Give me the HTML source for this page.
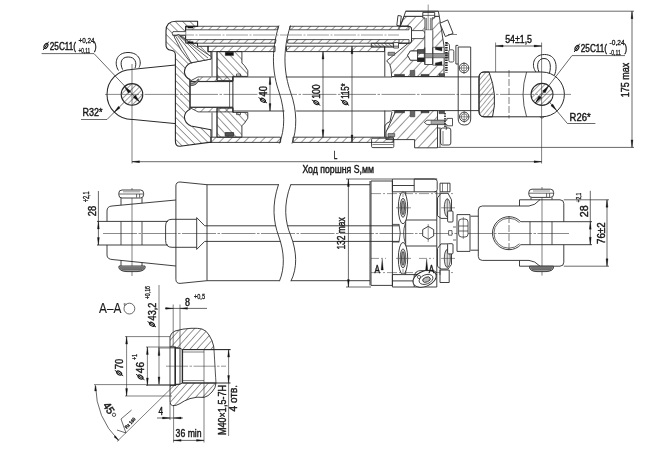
<!DOCTYPE html>
<html><head><meta charset="utf-8"><title>Hydraulic cylinder drawing</title>
<style>
html,body{margin:0;padding:0;background:#fff;}
body{width:650px;height:450px;overflow:hidden;font-family:"Liberation Sans",sans-serif;}
svg{display:block;font-family:"Liberation Sans",sans-serif;}
</style></head><body>
<svg width="650" height="450" viewBox="0 0 650 450">
<defs>
<pattern id="hA" width="5.8" height="5.8" patternUnits="userSpaceOnUse" patternTransform="rotate(-45)"><line x1="0" y1="0" x2="5.8" y2="0" stroke="#2a2a2a" stroke-width="0.95"/></pattern>
<pattern id="hB" width="5.2" height="5.2" patternUnits="userSpaceOnUse" patternTransform="rotate(45)"><line x1="0" y1="0" x2="5.2" y2="0" stroke="#2a2a2a" stroke-width="0.95"/></pattern>
<pattern id="hC" width="7.0" height="7.0" patternUnits="userSpaceOnUse" patternTransform="rotate(-47)"><line x1="0" y1="0" x2="7.0" y2="0" stroke="#2a2a2a" stroke-width="1.0"/></pattern>
<pattern id="hD" width="3.8" height="3.8" patternUnits="userSpaceOnUse" patternTransform="rotate(-45)"><line x1="0" y1="0" x2="3.8" y2="0" stroke="#2a2a2a" stroke-width="0.9"/></pattern>
<pattern id="hF" width="5.7" height="5.7" patternUnits="userSpaceOnUse" patternTransform="rotate(47)"><line x1="0" y1="0" x2="5.7" y2="0" stroke="#2a2a2a" stroke-width="0.95"/></pattern>
<pattern id="hG" width="5.2" height="5.2" patternUnits="userSpaceOnUse" patternTransform="rotate(-48)"><line x1="0" y1="0" x2="5.2" y2="0" stroke="#2a2a2a" stroke-width="0.95"/></pattern>
<pattern id="hH" width="2.6" height="2.6" patternUnits="userSpaceOnUse" patternTransform="rotate(45)"><line x1="0" y1="0" x2="2.6" y2="0" stroke="#2a2a2a" stroke-width="0.9"/></pattern>
<pattern id="hE" width="3.7" height="3.7" patternUnits="userSpaceOnUse" patternTransform="rotate(-50)"><line x1="0" y1="0" x2="3.7" y2="0" stroke="#2a2a2a" stroke-width="0.85"/></pattern>
<filter id="soft" x="0" y="0" width="650" height="450" filterUnits="userSpaceOnUse" color-interpolation-filters="sRGB"><feGaussianBlur stdDeviation="0.32"/><feColorMatrix type="saturate" values="0"/></filter>
</defs>
<rect x="0" y="0" width="650" height="450" fill="#fff"/>
<g stroke-linecap="butt" stroke-linejoin="round" filter="url(#soft)">
<line x1="105" y1="94.4" x2="571" y2="94.4" stroke="#2a2a2a" stroke-width="0.55" stroke-dasharray="34 1.5 2.5 1.5"/>
<path d="M132,69.4 A25,25 0 0 0 132,119.4" stroke="#2a2a2a" stroke-width="1.05" fill="none" />
<line x1="132" y1="69.4" x2="175.4" y2="65" stroke="#2a2a2a" stroke-width="1.0"/>
<line x1="132" y1="119.4" x2="175.4" y2="123.6" stroke="#2a2a2a" stroke-width="1.0"/>
<clipPath id="cpin1"><circle cx="132" cy="94.4" r="10.8"/></clipPath>
<circle cx="132" cy="94.4" r="10.8" fill="url(#hD)" stroke="#2a2a2a" stroke-width="1.1"/>
<path d="M118.5,70.5 C113.8,63.5 116,52.5 128,52.5 C140,52.5 142,62.5 139,67.6" stroke="#2a2a2a" stroke-width="1.0" fill="none" />
<path d="M122.6,69.6 C119.6,63 121,57 128.2,57 C135.5,57 137,63 135,68.2" stroke="#2a2a2a" stroke-width="1.0" fill="none" />
<line x1="132" y1="64" x2="132" y2="163.5" stroke="#2a2a2a" stroke-width="0.6"/>
<path d="M197.6,21.3 L176,21.3 Q166,21.3 166,31 L166,45 Q166,49.5 171,50.3 Q175.4,51 175.4,55 L175.4,141 Q175.4,146.6 180,146.3 L209,142.4 L211,142.4 L211,129.8 L191,126 Q184.6,123 184.4,116.7 Q185,111.5 190,109.2 L190,79.6 Q185,77.3 184.4,72.1 Q184.6,65.8 191,62.8 L211,59 L211,51.6 L208,51.6 L208,46.2 L197.5,46.2 L197.5,43.2 L185.6,43.2 L185.6,26.4 L197.6,26.4 Z" fill="url(#hB)" stroke="#2a2a2a" stroke-width="1.1"/>
<path d="M185.6,31.6 L173,31.6 Q171.5,33.5 173,35.4 L185.6,35.4" stroke="#2a2a2a" stroke-width="0.8" fill="#fff" />
<path d="M174,36.5 L178.5,34.5 L211,56.5 L211,59 L191,62.8 Q186,57 181,50 Z" stroke="#2a2a2a" stroke-width="0.8" fill="#fff" />
<line x1="176" y1="36.5" x2="192" y2="63.8" stroke="#2a2a2a" stroke-width="0.7"/>
<line x1="177.5" y1="35.6" x2="199" y2="62" stroke="#2a2a2a" stroke-width="0.7"/>
<line x1="178.5" y1="35" x2="205" y2="60.5" stroke="#2a2a2a" stroke-width="0.7"/>
<line x1="180" y1="36" x2="208" y2="58" stroke="#2a2a2a" stroke-width="0.7"/>
<path d="M185.6,26.3 L278.2,26.3 L277.59999999999997,29.8 L185.6,29.8 Z" fill="url(#hA)" stroke="#2a2a2a" stroke-width="0.8"/>
<path d="M289.8,26.3 L409,26.3 L408.4,29.8 L289.8,29.8 Z" fill="url(#hA)" stroke="#2a2a2a" stroke-width="0.8"/>
<path d="M185.6,39.6 L276,39.6 L275.4,43.2 L185.6,43.2 Z" fill="url(#hA)" stroke="#2a2a2a" stroke-width="0.8"/>
<path d="M287.6,39.6 L409,39.6 L408.4,43.2 L287.6,43.2 Z" fill="url(#hA)" stroke="#2a2a2a" stroke-width="0.8"/>
<line x1="172" y1="35" x2="420" y2="35" stroke="#2a2a2a" stroke-width="0.45" stroke-dasharray="22 1.5 2 1.5"/>
<path d="M409,26.3 Q411.5,26.3 411.5,29 L411.5,41 Q411.5,43.2 409,43.2" stroke="#2a2a2a" stroke-width="0.9" fill="none" />
<rect x="187.7" y="26.6" width="5.5" height="1.5" rx="0" stroke="#2a2a2a" stroke-width="0.3" fill="#111"/>
<rect x="187.7" y="41.6" width="5.5" height="1.6" rx="0" stroke="#2a2a2a" stroke-width="0.3" fill="#111"/>
<path d="M208,46.2 L275,46.2 L275,51.6 L208,51.6 Z" fill="url(#hA)" stroke="#2a2a2a" stroke-width="0.9"/>
<path d="M286.5,46.2 L384.5,46.2 L384.5,51.6 L286.5,51.6 Z" fill="url(#hA)" stroke="#2a2a2a" stroke-width="0.9"/>
<path d="M211,137.2 L280.6,137.2 L280.6,142.4 L211,142.4 Z" fill="url(#hA)" stroke="#2a2a2a" stroke-width="0.9"/>
<path d="M293,137.2 L393.3,137.2 L393.3,142.4 L293,142.4 Z" fill="url(#hA)" stroke="#2a2a2a" stroke-width="0.9"/>
<path d="M278.9,25.5 C270.5,52 272.8,74 279,92 C285.5,111 285,130 279.3,143.5" stroke="#2a2a2a" stroke-width="0.9" fill="none" />
<path d="M290.5,25.5 C282,52 284.3,74 290.5,92 C297.5,111 297,130 292,143.5" stroke="#2a2a2a" stroke-width="0.9" fill="none" />
<path d="M217,51.6 L241.9,51.6 L241.9,63 L244.6,65.8 L247.8,70.6 L247.8,76.4 L232.9,76.4 L232.9,80.6 L217,80.6 Z" fill="url(#hF)" stroke="#2a2a2a" stroke-width="0.9"/>
<path d="M217,137.2 L241.9,137.2 L241.9,125.8 L244.6,123 L247.8,118.2 L247.8,112.4 L232.9,112.4 L232.9,108.2 L217,108.2 Z" fill="url(#hF)" stroke="#2a2a2a" stroke-width="0.9"/>
<rect x="225.2" y="52.2" width="8.4" height="3.4" rx="0" stroke="#2a2a2a" stroke-width="0.3" fill="#111"/>
<rect x="225.2" y="132.6" width="8.4" height="3.6" rx="0" stroke="#2a2a2a" stroke-width="0.8" fill="#555"/>
<rect x="236.5" y="74" width="4" height="2" rx="0" stroke="#2a2a2a" stroke-width="0.7" fill="none"/>
<rect x="236.5" y="112.6" width="4" height="2" rx="0" stroke="#2a2a2a" stroke-width="0.7" fill="none"/>
<line x1="212" y1="52" x2="212" y2="59" stroke="#2a2a2a" stroke-width="0.8"/>
<line x1="212" y1="59" x2="212" y2="76.5" stroke="#2a2a2a" stroke-width="0.8"/>
<line x1="217" y1="52" x2="217" y2="80.6" stroke="#2a2a2a" stroke-width="0.8"/>
<line x1="217" y1="108.2" x2="217" y2="137" stroke="#2a2a2a" stroke-width="0.8"/>
<line x1="212" y1="112.5" x2="212" y2="137" stroke="#2a2a2a" stroke-width="0.8"/>
<path d="M191,80.6 L198,76.9 L232.9,76.9 L232.9,81.4 L191,81.4 Z" fill="url(#hA)" stroke="#2a2a2a" stroke-width="0.8"/>
<path d="M191,108.2 L198,111.9 L232.9,111.9 L232.9,107.4 L191,107.4 Z" fill="url(#hA)" stroke="#2a2a2a" stroke-width="0.8"/>
<line x1="190" y1="81.6" x2="232.9" y2="81.6" stroke="#2a2a2a" stroke-width="0.9"/>
<line x1="190" y1="107.2" x2="232.9" y2="107.2" stroke="#2a2a2a" stroke-width="0.9"/>
<line x1="232.9" y1="76.4" x2="232.9" y2="112.4" stroke="#2a2a2a" stroke-width="1.0"/>
<line x1="229.6" y1="81.6" x2="229.6" y2="107.2" stroke="#2a2a2a" stroke-width="0.7"/>
<line x1="190" y1="79.6" x2="190" y2="109.2" stroke="#2a2a2a" stroke-width="0.9"/>
<path d="M190.4,83.2 Q195.5,83.4 198.4,78.8 Q198.6,82.2 196,84.2 Q193.5,86 190.4,85.6 Z" stroke="#2a2a2a" stroke-width="0.7" fill="#999" />
<line x1="232.9" y1="77" x2="274.2" y2="77" stroke="#2a2a2a" stroke-width="0.9"/>
<line x1="232.9" y1="111" x2="284.4" y2="111" stroke="#2a2a2a" stroke-width="0.9"/>
<line x1="285.8" y1="77" x2="392" y2="77" stroke="#2a2a2a" stroke-width="0.9"/>
<line x1="296.2" y1="111" x2="392" y2="111" stroke="#2a2a2a" stroke-width="0.9"/>
<path d="M391.6,76.6 L391,68.8 Q390.6,64 386.7,60.8 L410.7,41.2 L411.5,41 L411.5,29 L409,26.3 L400.2,26.3 L404,16.3 L439.3,16.3 L441.5,30 L444,46 L444,76.6 Z" fill="url(#hC)" stroke="#2a2a2a" stroke-width="0.9"/>
<path d="M396,110.6 L437.5,110.6 L437.5,147.8 L414.6,147.8 L414.6,139.6 L386,139.6 L386,132 Z" fill="url(#hC)" stroke="#2a2a2a" stroke-width="0.9"/>
<path d="M405.7,11.2 L438.3,11.2 L439.3,16.3 L404,16.3 Z" stroke="#2a2a2a" stroke-width="0.9" fill="#fff" />
<line x1="384.8" y1="46.2" x2="384.8" y2="76.6" stroke="#2a2a2a" stroke-width="0.9"/>
<path d="M384.8,137.2 L384.8,126 Q386,123 390,121.5 L392,112" stroke="#2a2a2a" stroke-width="0.9" fill="none" />
<line x1="384.8" y1="110.6" x2="384.8" y2="136.8" stroke="#2a2a2a" stroke-width="0.9"/>
<line x1="391.6" y1="76.6" x2="444" y2="76.6" stroke="#2a2a2a" stroke-width="0.9"/>
<line x1="392" y1="110.6" x2="444" y2="110.6" stroke="#2a2a2a" stroke-width="0.9"/>
<path d="M371.3,43.2 L393.6,43.2 L393.6,47.2 L371.3,47.2 Z" fill="url(#hH)" stroke="#2a2a2a" stroke-width="0.8"/>
<rect x="393.6" y="42.6" width="4.9" height="5.4" rx="0" stroke="#2a2a2a" stroke-width="0.8" fill="#fff"/>
<line x1="384.8" y1="46.2" x2="398.4" y2="46.2" stroke="#2a2a2a" stroke-width="0.8"/>
<path d="M399,26.3 L409,26.3 Q411.5,26.3 411.5,29 L411.5,41 Q411.5,43.2 409,43.2 L399,43.2 Z" stroke="#2a2a2a" stroke-width="0" fill="#fff" />
<path d="M399,26.3 L409,26.3 L409,29.8 L399,29.8 Z" fill="url(#hA)" stroke="#2a2a2a" stroke-width="0.8"/>
<path d="M399,39.6 L409,39.6 L409,43.2 L399,43.2 Z" fill="url(#hA)" stroke="#2a2a2a" stroke-width="0.8"/>
<path d="M399,26.3 L409,26.3 Q411.5,26.3 411.5,29 L411.5,41 Q411.5,43.2 409,43.2 L399,43.2" stroke="#2a2a2a" stroke-width="1.0" fill="none" />
<path d="M411.5,30.6 L423.4,30.6 L426,34.6 L423.4,38.6 L411.5,38.6 Z" stroke="#2a2a2a" stroke-width="0.8" fill="#fff" />
<path d="M398,15.5 L401.3,16 L400.2,25.9 L396.8,25.4 Z" stroke="#2a2a2a" stroke-width="0.9" fill="#fff" />
<line x1="404" y1="16.3" x2="400.2" y2="26.3" stroke="#2a2a2a" stroke-width="0.9"/>
<path d="M422.8,12.4 L434.7,12.4 L434.7,17.9 L432,17.9 L432,30.2 L425,30.2 L425,17.9 L422.8,17.9 Z" stroke="#2a2a2a" stroke-width="0.9" fill="#fff" />
<line x1="422.8" y1="15.4" x2="434.7" y2="15.4" stroke="#2a2a2a" stroke-width="0.7"/>
<line x1="428.2" y1="4.5" x2="428.2" y2="50" stroke="#2a2a2a" stroke-width="0.5"/>
<line x1="426.6" y1="17.9" x2="426.6" y2="30" stroke="#2a2a2a" stroke-width="0.6"/>
<line x1="430.4" y1="17.9" x2="430.4" y2="30" stroke="#2a2a2a" stroke-width="0.6"/>
<path d="M424.8,30.2 L424.8,64.5 L432.8,64.5 L432.8,30.2" stroke="#2a2a2a" stroke-width="0.8" fill="#fff" />
<path d="M439.9,23.3 L447.7,19.9 L453.1,33.4 L445.3,36.5 Z" stroke="#2a2a2a" stroke-width="0.9" fill="#fff" />
<line x1="448" y1="34.5" x2="457" y2="34.5" stroke="#2a2a2a" stroke-width="0.6"/>
<path d="M407.6,55.3 L410.4,51 L417.5,51 L417.5,49.8 L424.8,49.8 M424.8,61.5 L417.5,61.5 L417.5,60.2 L410.4,60.2 L407.6,55.3" stroke="#2a2a2a" stroke-width="0.8" fill="#fff" />
<path d="M407.6,55.3 L410.4,51 L417.5,51 L417.5,60.2 L410.4,60.2 Z" stroke="#2a2a2a" stroke-width="0.8" fill="#fff" />
<path d="M432.8,47.3 L444,47.3 L444,65.2 L432.8,65.2 Z" stroke="#2a2a2a" stroke-width="0.6" fill="#fff" />
<rect x="417.5" y="49.8" width="6.8" height="3.7" rx="0" stroke="#2a2a2a" stroke-width="0.5" fill="#555"/>
<rect x="417.5" y="57.8" width="6.8" height="3.7" rx="0" stroke="#2a2a2a" stroke-width="0.5" fill="#222"/>
<rect x="424.2" y="53.5" width="25.8" height="4.3" rx="0" stroke="#2a2a2a" stroke-width="0.5" fill="#999"/>
<path d="M435.3,47.3 L442,47.3 L442,51 L435.3,49.6 Z" stroke="#2a2a2a" stroke-width="0.3" fill="#222" />
<path d="M435.3,65.2 L442,65.2 L442,61.5 L435.3,62.9 Z" stroke="#2a2a2a" stroke-width="0.3" fill="#222" />
<line x1="424.8" y1="47.5" x2="424.8" y2="64.5" stroke="#2a2a2a" stroke-width="0.8"/>
<line x1="432.8" y1="47.5" x2="432.8" y2="64.5" stroke="#2a2a2a" stroke-width="0.8"/>
<line x1="446.4" y1="42" x2="446.4" y2="72.5" stroke="#2a2a2a" stroke-width="2.6" stroke-dasharray="1.4 1.1"/>
<path d="M445.8,43.6 Q449.5,42.5 449.5,46 L449.5,49.8" stroke="#2a2a2a" stroke-width="0.8" fill="none" />
<rect x="448.8" y="49.8" width="5" height="12.2" rx="1.4" stroke="#2a2a2a" stroke-width="0.8" fill="#fff"/>
<rect x="394.5" y="74.39999999999999" width="10" height="2.2" rx="0" stroke="#2a2a2a" stroke-width="0.5" fill="#444"/>
<rect x="394.5" y="110.6" width="10" height="2.2" rx="0" stroke="#2a2a2a" stroke-width="0.5" fill="#444"/>
<rect x="410.2" y="70.39999999999999" width="4.6" height="6.2" rx="0" stroke="#2a2a2a" stroke-width="0.5" fill="#666"/>
<rect x="410.2" y="110.6" width="4.6" height="6.2" rx="0" stroke="#2a2a2a" stroke-width="0.5" fill="#666"/>
<rect x="421" y="74.39999999999999" width="8" height="2.2" rx="0" stroke="#2a2a2a" stroke-width="0.5" fill="#444"/>
<rect x="421" y="110.6" width="8" height="2.2" rx="0" stroke="#2a2a2a" stroke-width="0.5" fill="#444"/>
<rect x="439" y="73.6" width="5.5" height="3" rx="0" stroke="#2a2a2a" stroke-width="0.5" fill="#555"/>
<rect x="439" y="110.6" width="5.5" height="3" rx="0" stroke="#2a2a2a" stroke-width="0.5" fill="#555"/>
<rect x="388" y="52.3" width="6.7" height="3" rx="0" stroke="#2a2a2a" stroke-width="0.6" fill="#999"/>
<rect x="388" y="133.6" width="6.7" height="3" rx="0" stroke="#2a2a2a" stroke-width="0.6" fill="#999"/>
<path d="M424.3,122.4 L427,120.2 L446.9,120.2 L446.9,118.4 L452.5,118.4 L452.5,125.8 L446.9,125.8 L446.9,124.6 L427,124.6 Z" stroke="#2a2a2a" stroke-width="0.8" fill="#fff" />
<rect x="431" y="120.6" width="14" height="3.6" rx="0" stroke="#2a2a2a" stroke-width="0.4" fill="#aaa"/>
<line x1="445" y1="113" x2="445" y2="127" stroke="#2a2a2a" stroke-width="1.6" stroke-dasharray="1.4 1.1"/>
<rect x="440.6" y="128" width="10.2" height="17" rx="2" stroke="#2a2a2a" stroke-width="0.9" fill="#fff"/>
<line x1="443" y1="131" x2="443" y2="144" stroke="#2a2a2a" stroke-width="0.6"/>
<line x1="437.5" y1="128" x2="440.6" y2="128" stroke="#2a2a2a" stroke-width="0.8"/>
<line x1="440" y1="128" x2="440" y2="147.4" stroke="#2a2a2a" stroke-width="0.7"/>
<path d="M446,125.8 Q447.5,128 446,130" stroke="#2a2a2a" stroke-width="0.7" fill="none" />
<rect x="371.6" y="138.2" width="22.2" height="9.4" rx="1.2" stroke="#2a2a2a" stroke-width="0.9" fill="none"/>
<line x1="372.5" y1="144.5" x2="393" y2="144.5" stroke="#2a2a2a" stroke-width="0.7"/>
<rect x="372.2" y="142.9" width="21" height="1.3" rx="0" stroke="#2a2a2a" stroke-width="0" fill="#fff"/>
<line x1="405.7" y1="11.2" x2="634" y2="11.2" stroke="#2a2a2a" stroke-width="0.7"/>
<line x1="437.5" y1="147.4" x2="634" y2="147.4" stroke="#2a2a2a" stroke-width="0.7"/>
<line x1="632" y1="11.2" x2="632" y2="147.4" stroke="#2a2a2a" stroke-width="0.7"/>
<polygon points="632.00,11.20 632.95,18.70 631.05,18.70" fill="#111" stroke="#111" stroke-width="0.3"/>
<polygon points="632.00,147.40 631.05,139.90 632.95,139.90" fill="#111" stroke="#111" stroke-width="0.3"/>
<line x1="455.9" y1="45.4" x2="455.9" y2="64" stroke="#2a2a2a" stroke-width="0.9"/>
<line x1="458.2" y1="47" x2="458.2" y2="64" stroke="#2a2a2a" stroke-width="0.9"/>
<line x1="455.9" y1="45.4" x2="458.2" y2="45.4" stroke="#2a2a2a" stroke-width="0.9"/>
<line x1="455.9" y1="64" x2="458.2" y2="64" stroke="#2a2a2a" stroke-width="0.9"/>
<line x1="458.2" y1="47" x2="470.7" y2="47" stroke="#2a2a2a" stroke-width="0.9"/>
<path d="M470.7,47 L470.7,119 Q470.7,125 464.4,125 Q458.2,125 458.2,119 L458.2,64" stroke="#2a2a2a" stroke-width="0.9" fill="none" />
<circle cx="464" cy="68" r="4.8" stroke="#2a2a2a" stroke-width="0.9" fill="#fff"/>
<line x1="464" y1="62" x2="464" y2="74" stroke="#2a2a2a" stroke-width="0.5"/>
<line x1="459" y1="68" x2="469" y2="68" stroke="#2a2a2a" stroke-width="0.5"/>
<circle cx="464" cy="68" r="3" stroke="#2a2a2a" stroke-width="0.6" fill="none"/>
<circle cx="464.2" cy="116.8" r="4.7" stroke="#2a2a2a" stroke-width="0.9" fill="#fff"/>
<line x1="464.2" y1="111" x2="464.2" y2="123" stroke="#2a2a2a" stroke-width="0.5"/>
<line x1="459" y1="116.8" x2="469.5" y2="116.8" stroke="#2a2a2a" stroke-width="0.5"/>
<circle cx="464.2" cy="116.8" r="3" stroke="#2a2a2a" stroke-width="0.6" fill="none"/>
<line x1="444" y1="76.9" x2="479" y2="76.9" stroke="#2a2a2a" stroke-width="0.9"/>
<line x1="444" y1="110.6" x2="479" y2="110.6" stroke="#2a2a2a" stroke-width="0.9"/>
<path d="M484,72 L542,72 A22.4,22.4 0 0 1 542,116.8 L484,116.8 Q479,116.8 479,111 L479,78 Q479,72 484,72 Z" stroke="#2a2a2a" stroke-width="1.0" fill="none" />
<path d="M484,72 L489,72 Q498,95 492.5,116.8 L484,116.8 Q479,116.8 479,111 L479,78 Q479,72 484,72 Z" fill="url(#hE)" stroke="#2a2a2a" stroke-width="1.0"/>
<line x1="509" y1="70" x2="509" y2="118.5" stroke="#2a2a2a" stroke-width="0.6" stroke-dasharray="7 2"/>
<path d="M526.6,72 Q519.5,94.4 526.6,116.8" stroke="#2a2a2a" stroke-width="0.8" fill="none" />
<circle cx="542" cy="94.4" r="11" fill="url(#hD)" stroke="#2a2a2a" stroke-width="1.1"/>
<path d="M536,72 C531,66 533,54.5 544.5,54.5 C556,54.5 558,66 554.5,75.2" stroke="#2a2a2a" stroke-width="1.0" fill="none" />
<path d="M539,72 C536,65 538,58.5 544,58.5 C550,58.5 551.5,65 549.5,73.2" stroke="#2a2a2a" stroke-width="1.0" fill="none" />
<path d="M539.8,116.8 Q542,119.6 544.2,116.8" stroke="#2a2a2a" stroke-width="0.7" fill="none" />
<line x1="541.6" y1="42.5" x2="541.6" y2="163.5" stroke="#2a2a2a" stroke-width="0.6"/>
<line x1="495.6" y1="42.5" x2="495.6" y2="72" stroke="#2a2a2a" stroke-width="0.6"/>
<line x1="495.6" y1="46" x2="541.6" y2="46" stroke="#2a2a2a" stroke-width="0.7"/>
<polygon points="495.60,46.00 503.10,45.05 503.10,46.95" fill="#111" stroke="#111" stroke-width="0.3"/>
<polygon points="541.60,46.00 534.10,46.95 534.10,45.05" fill="#111" stroke="#111" stroke-width="0.3"/>
<text x="505.2" y="42.7" font-size="11.2" text-anchor="start" font-weight="normal" fill="#1a1a1a" stroke="#1a1a1a" stroke-width="0.45" textLength="26.8" lengthAdjust="spacingAndGlyphs">54±1,5</text>
<g transform="translate(574 51.8) rotate(0)"><ellipse cx="2.9" cy="-3.76" rx="1.6" ry="2.8" transform="rotate(34 2.9 -3.76)" fill="none" stroke="#1a1a1a" stroke-width="1.15"/><line x1="0.2" y1="0.2" x2="5.7" y2="-8.12" stroke="#1a1a1a" stroke-width="1.0"/></g>
<text x="580.8" y="51.8" font-size="11" text-anchor="start" font-weight="normal" fill="#1a1a1a" stroke="#1a1a1a" stroke-width="0.45" textLength="26.2" lengthAdjust="spacingAndGlyphs">25C11(</text>
<text x="609.6" y="44.9" font-size="6.8" text-anchor="start" font-weight="normal" fill="#1a1a1a" stroke="#1a1a1a" stroke-width="0.3" textLength="15" lengthAdjust="spacingAndGlyphs">-0,24</text>
<text x="609.6" y="54.7" font-size="6.8" text-anchor="start" font-weight="normal" fill="#1a1a1a" stroke="#1a1a1a" stroke-width="0.3" textLength="11.2" lengthAdjust="spacingAndGlyphs">-0,11</text>
<text x="624.6" y="51.8" font-size="11" text-anchor="start" font-weight="normal" fill="#1a1a1a" stroke="#1a1a1a" stroke-width="0.45" textLength="2.6" lengthAdjust="spacingAndGlyphs">)</text>
<line x1="572" y1="55.6" x2="625" y2="55.6" stroke="#2a2a2a" stroke-width="0.7"/>
<line x1="572" y1="55.6" x2="535.3" y2="103.1" stroke="#2a2a2a" stroke-width="0.7"/>
<polygon points="548.70,85.70 545.07,93.01 542.54,91.05" fill="#111" stroke="#111" stroke-width="0.3"/>
<polygon points="535.30,103.10 538.93,95.79 541.46,97.75" fill="#111" stroke="#111" stroke-width="0.3"/>
<text x="569.6" y="120.8" font-size="11.2" text-anchor="start" font-weight="normal" fill="#1a1a1a" stroke="#1a1a1a" stroke-width="0.45" textLength="21" lengthAdjust="spacingAndGlyphs">R26*</text>
<line x1="567.4" y1="123.5" x2="595.4" y2="123.5" stroke="#2a2a2a" stroke-width="0.7"/>
<line x1="567.4" y1="123.5" x2="549" y2="101.5" stroke="#2a2a2a" stroke-width="0.7"/>
<polygon points="556.60,110.60 550.86,105.63 552.70,104.08" fill="#111" stroke="#111" stroke-width="0.3"/>
<text x="629.2" y="97.2" font-size="11.6" text-anchor="start" font-weight="normal" fill="#1a1a1a" stroke="#1a1a1a" stroke-width="0.45" textLength="34.4" lengthAdjust="spacingAndGlyphs" transform="rotate(-90 629.2 97.2)">175 max</text>
<g transform="translate(43 49.8) rotate(0)"><ellipse cx="2.9" cy="-3.76" rx="1.6" ry="2.8" transform="rotate(34 2.9 -3.76)" fill="none" stroke="#1a1a1a" stroke-width="1.15"/><line x1="0.2" y1="0.2" x2="5.7" y2="-8.12" stroke="#1a1a1a" stroke-width="1.0"/></g>
<text x="49.8" y="49.8" font-size="11" text-anchor="start" font-weight="normal" fill="#1a1a1a" stroke="#1a1a1a" stroke-width="0.45" textLength="26.2" lengthAdjust="spacingAndGlyphs">25C11(</text>
<text x="78.6" y="43.4" font-size="6.8" text-anchor="start" font-weight="normal" fill="#1a1a1a" stroke="#1a1a1a" stroke-width="0.3" textLength="16" lengthAdjust="spacingAndGlyphs">+0,24</text>
<text x="78.6" y="53.2" font-size="6.8" text-anchor="start" font-weight="normal" fill="#1a1a1a" stroke="#1a1a1a" stroke-width="0.3" textLength="11.6" lengthAdjust="spacingAndGlyphs">+0,11</text>
<text x="94" y="49.8" font-size="11" text-anchor="start" font-weight="normal" fill="#1a1a1a" stroke="#1a1a1a" stroke-width="0.45" textLength="2.6" lengthAdjust="spacingAndGlyphs">)</text>
<line x1="41.6" y1="53.6" x2="94" y2="53.6" stroke="#2a2a2a" stroke-width="0.7"/>
<line x1="94" y1="53.6" x2="140" y2="102.2" stroke="#2a2a2a" stroke-width="0.7"/>
<polygon points="124.20,86.40 130.83,91.16 128.49,93.34" fill="#111" stroke="#111" stroke-width="0.3"/>
<polygon points="139.70,102.00 133.07,97.24 135.41,95.06" fill="#111" stroke="#111" stroke-width="0.3"/>
<text x="82.5" y="116.2" font-size="11.2" text-anchor="start" font-weight="normal" fill="#1a1a1a" stroke="#1a1a1a" stroke-width="0.45" textLength="20" lengthAdjust="spacingAndGlyphs">R32*</text>
<line x1="81" y1="119.5" x2="107" y2="119.5" stroke="#2a2a2a" stroke-width="0.7"/>
<line x1="107" y1="119.5" x2="124.4" y2="102" stroke="#2a2a2a" stroke-width="0.7"/>
<polygon points="114.00,112.40 118.45,106.25 120.15,107.95" fill="#111" stroke="#111" stroke-width="0.3"/>
<line x1="132" y1="161.7" x2="541.6" y2="161.7" stroke="#2a2a2a" stroke-width="0.7"/>
<polygon points="132.00,161.70 139.50,160.75 139.50,162.65" fill="#111" stroke="#111" stroke-width="0.3"/>
<polygon points="541.60,161.70 534.10,162.65 534.10,160.75" fill="#111" stroke="#111" stroke-width="0.3"/>
<text x="333.8" y="158.6" font-size="11" text-anchor="start" font-weight="normal" fill="#1a1a1a" stroke="#1a1a1a" stroke-width="0.45" textLength="3.6" lengthAdjust="spacingAndGlyphs">L</text>
<text x="302.4" y="173.2" font-size="11" text-anchor="start" font-weight="normal" fill="#1a1a1a" stroke="#1a1a1a" stroke-width="0.45" textLength="71.5" lengthAdjust="spacingAndGlyphs">Ход поршня S,мм</text>
<line x1="270" y1="77" x2="270" y2="111" stroke="#2a2a2a" stroke-width="0.7"/>
<polygon points="270.00,77.00 270.95,84.50 269.05,84.50" fill="#111" stroke="#111" stroke-width="0.3"/>
<polygon points="270.00,111.00 269.05,103.50 270.95,103.50" fill="#111" stroke="#111" stroke-width="0.3"/>
<g transform="translate(266.8 103.2) rotate(-90)"><ellipse cx="2.9" cy="-3.83" rx="1.6" ry="2.8" transform="rotate(34 2.9 -3.83)" fill="none" stroke="#1a1a1a" stroke-width="1.15"/><line x1="0.2" y1="0.2" x2="5.7" y2="-8.26" stroke="#1a1a1a" stroke-width="1.0"/></g>
<text x="266.8" y="96.4" font-size="11.2" text-anchor="start" font-weight="normal" fill="#1a1a1a" stroke="#1a1a1a" stroke-width="0.45" textLength="10.4" lengthAdjust="spacingAndGlyphs" transform="rotate(-90 266.8 96.4)">40</text>
<line x1="323" y1="51.6" x2="323" y2="137.2" stroke="#2a2a2a" stroke-width="0.7"/>
<polygon points="323.00,51.60 323.95,59.10 322.05,59.10" fill="#111" stroke="#111" stroke-width="0.3"/>
<polygon points="323.00,137.20 322.05,129.70 323.95,129.70" fill="#111" stroke="#111" stroke-width="0.3"/>
<g transform="translate(320.1 105.6) rotate(-90)"><ellipse cx="2.9" cy="-3.83" rx="1.6" ry="2.8" transform="rotate(34 2.9 -3.83)" fill="none" stroke="#1a1a1a" stroke-width="1.15"/><line x1="0.2" y1="0.2" x2="5.7" y2="-8.26" stroke="#1a1a1a" stroke-width="1.0"/></g>
<text x="320.1" y="98.8" font-size="11.2" text-anchor="start" font-weight="normal" fill="#1a1a1a" stroke="#1a1a1a" stroke-width="0.45" textLength="14.4" lengthAdjust="spacingAndGlyphs" transform="rotate(-90 320.1 98.8)">100</text>
<line x1="352" y1="46.2" x2="352" y2="142.4" stroke="#2a2a2a" stroke-width="0.7"/>
<polygon points="352.00,46.20 352.95,53.70 351.05,53.70" fill="#111" stroke="#111" stroke-width="0.3"/>
<polygon points="352.00,142.40 351.05,134.90 352.95,134.90" fill="#111" stroke="#111" stroke-width="0.3"/>
<g transform="translate(348.9 105.6) rotate(-90)"><ellipse cx="2.9" cy="-3.83" rx="1.6" ry="2.8" transform="rotate(34 2.9 -3.83)" fill="none" stroke="#1a1a1a" stroke-width="1.15"/><line x1="0.2" y1="0.2" x2="5.7" y2="-8.26" stroke="#1a1a1a" stroke-width="1.0"/></g>
<text x="348.9" y="98.8" font-size="11.2" text-anchor="start" font-weight="normal" fill="#1a1a1a" stroke="#1a1a1a" stroke-width="0.45" textLength="15.4" lengthAdjust="spacingAndGlyphs" transform="rotate(-90 348.9 98.8)">115*</text>
<line x1="103" y1="233.5" x2="569" y2="233.5" stroke="#2a2a2a" stroke-width="0.55" stroke-dasharray="34 1.5 2.5 1.5"/>
<path d="M107,221.4 L107,211 Q107,206.3 112,206 L175.9,200" stroke="#2a2a2a" stroke-width="0.9" fill="none" />
<path d="M107,245 L107,255 Q107,259.4 113,259.6 L175.9,266" stroke="#2a2a2a" stroke-width="0.9" fill="none" />
<line x1="97" y1="221.4" x2="168" y2="221.4" stroke="#2a2a2a" stroke-width="0.9"/>
<line x1="97" y1="245" x2="168" y2="245" stroke="#2a2a2a" stroke-width="0.9"/>
<line x1="121" y1="221.4" x2="121" y2="245" stroke="#2a2a2a" stroke-width="0.8"/>
<line x1="142" y1="221.4" x2="142" y2="245" stroke="#2a2a2a" stroke-width="0.8"/>
<line x1="132" y1="188" x2="132" y2="276" stroke="#2a2a2a" stroke-width="0.6"/>
<rect x="118.8" y="190" width="24.8" height="8" rx="3.2" stroke="#2a2a2a" stroke-width="0.9" fill="#fff"/>
<line x1="119" y1="194" x2="143.4" y2="194" stroke="#2a2a2a" stroke-width="0.7"/>
<line x1="121" y1="198" x2="121" y2="205.2" stroke="#2a2a2a" stroke-width="0.9"/>
<line x1="142" y1="198" x2="142" y2="203.2" stroke="#2a2a2a" stroke-width="0.9"/>
<line x1="136.6" y1="194" x2="136.6" y2="197.6" stroke="#2a2a2a" stroke-width="0.7"/>
<line x1="139.6" y1="194" x2="139.6" y2="197.6" stroke="#2a2a2a" stroke-width="0.7"/>
<line x1="123" y1="191.8" x2="140" y2="191.8" stroke="#2a2a2a" stroke-width="0.5"/>
<line x1="121" y1="260.4" x2="121" y2="266" stroke="#2a2a2a" stroke-width="0.9"/>
<line x1="142" y1="262.6" x2="142" y2="266" stroke="#2a2a2a" stroke-width="0.9"/>
<path d="M119,266 L145,266 Q146,268 143.5,270 Q141,271.6 137,271.6 L127,271.6 Q123,271.6 120.5,270 Q118,268 119,266 Z" stroke="#2a2a2a" stroke-width="0.9" fill="#bbb" />
<line x1="120" y1="268" x2="144" y2="268" stroke="#2a2a2a" stroke-width="1.0"/>
<line x1="121.5" y1="269.8" x2="142.5" y2="269.8" stroke="#2a2a2a" stroke-width="0.8"/>
<line x1="98.4" y1="191" x2="98.4" y2="245" stroke="#2a2a2a" stroke-width="0.7"/>
<polygon points="98.40,221.40 99.35,228.90 97.45,228.90" fill="#111" stroke="#111" stroke-width="0.3"/>
<polygon points="98.40,245.00 97.45,237.50 99.35,237.50" fill="#111" stroke="#111" stroke-width="0.3"/>
<text x="96" y="216.2" font-size="11.2" text-anchor="start" font-weight="normal" fill="#1a1a1a" stroke="#1a1a1a" stroke-width="0.45" textLength="10.4" lengthAdjust="spacingAndGlyphs" transform="rotate(-90 96 216.2)">28</text>
<text x="89.4" y="202.3" font-size="8.4" text-anchor="start" font-weight="normal" fill="#1a1a1a" stroke="#1a1a1a" stroke-width="0.4" textLength="10.8" lengthAdjust="spacingAndGlyphs" transform="rotate(-90 89.4 202.3)">+2,1</text>
<path d="M175.9,186 Q175.9,182 180,182 L207,184.7 L207,280.7 L180,283.4 Q175.9,283.4 175.9,279.4 Z" stroke="#2a2a2a" stroke-width="0.9" fill="none" />
<path d="M196.7,219.3 L172,219.3 Q165.6,219.3 165.6,226 L165.6,240.5 Q165.6,247.3 172,247.3 L196.7,247.3" stroke="#2a2a2a" stroke-width="0.9" fill="none" />
<line x1="196.7" y1="217.6" x2="196.7" y2="249.4" stroke="#2a2a2a" stroke-width="0.9"/>
<line x1="196.7" y1="217.6" x2="204.7" y2="225.8" stroke="#2a2a2a" stroke-width="0.9"/>
<line x1="196.7" y1="249.4" x2="204.7" y2="241.4" stroke="#2a2a2a" stroke-width="0.9"/>
<line x1="204.7" y1="225.8" x2="275.8" y2="225.8" stroke="#2a2a2a" stroke-width="0.9"/>
<line x1="204.7" y1="241.4" x2="280.6" y2="241.4" stroke="#2a2a2a" stroke-width="0.9"/>
<line x1="287.8" y1="225.8" x2="399" y2="225.8" stroke="#2a2a2a" stroke-width="0.9"/>
<line x1="293" y1="241.4" x2="399" y2="241.4" stroke="#2a2a2a" stroke-width="0.9"/>
<line x1="207" y1="184.7" x2="278.6" y2="184.7" stroke="#2a2a2a" stroke-width="0.9"/>
<line x1="207" y1="280.7" x2="279.4" y2="280.7" stroke="#2a2a2a" stroke-width="0.9"/>
<line x1="290.9" y1="184.7" x2="370" y2="184.7" stroke="#2a2a2a" stroke-width="0.9"/>
<line x1="290.9" y1="280.7" x2="370" y2="280.7" stroke="#2a2a2a" stroke-width="0.9"/>
<path d="M278.6,184.2 C271.5,205 273.5,222 278.6,236 C284.5,252 285,268 279.4,281.2" stroke="#2a2a2a" stroke-width="0.9" fill="none" />
<path d="M290.9,184.2 C283,205 285,222 290.9,236 C297,252 297.5,268 290.9,281.2" stroke="#2a2a2a" stroke-width="0.9" fill="none" />
<line x1="370" y1="181" x2="370" y2="285.4" stroke="#2a2a2a" stroke-width="0.9"/>
<line x1="346" y1="179" x2="392.4" y2="179" stroke="#2a2a2a" stroke-width="0.7"/>
<line x1="346" y1="287" x2="371" y2="287" stroke="#2a2a2a" stroke-width="0.7"/>
<line x1="348.4" y1="179" x2="348.4" y2="287" stroke="#2a2a2a" stroke-width="0.7"/>
<polygon points="348.40,179.00 349.35,186.50 347.45,186.50" fill="#111" stroke="#111" stroke-width="0.3"/>
<polygon points="348.40,287.00 347.45,279.50 349.35,279.50" fill="#111" stroke="#111" stroke-width="0.3"/>
<text x="345.2" y="249.6" font-size="11.8" text-anchor="start" font-weight="normal" fill="#1a1a1a" stroke="#1a1a1a" stroke-width="0.45" textLength="32.4" lengthAdjust="spacingAndGlyphs" transform="rotate(-90 345.2 249.6)">132 max</text>
<rect x="371" y="181" width="21.4" height="104.4" rx="0" stroke="#2a2a2a" stroke-width="0.9" fill="none"/>
<line x1="392.4" y1="179" x2="437.2" y2="179" stroke="#2a2a2a" stroke-width="0.9"/>
<path d="M392.4,179 L392.4,191.8 M392.4,185.5 L414.2,185.5 M414.2,179 L414.2,191.8 M392.4,191.8 L437.2,191.8 M414.2,179 L434.5,179 Q437.2,179 437.2,181.5 L437.2,189.5 Q437.2,191.8 434.5,191.8" stroke="#2a2a2a" stroke-width="0.9" fill="none" />
<path d="M392.4,274.6 L392.4,287 M392.4,280.9 L414.2,280.9 M414.2,274.6 L414.2,287 M392.4,274.6 L437.2,274.6 M392.4,287 L436.8,287 L436.8,274.6" stroke="#2a2a2a" stroke-width="0.9" fill="none" />
<line x1="371" y1="193.6" x2="453" y2="193.6" stroke="#2a2a2a" stroke-width="0.5" stroke-dasharray="10 2 2 2"/>
<line x1="371" y1="272.6" x2="453" y2="272.6" stroke="#2a2a2a" stroke-width="0.5" stroke-dasharray="10 2 2 2"/>
<line x1="405.7" y1="191.8" x2="405.7" y2="274.6" stroke="#2a2a2a" stroke-width="0.9"/>
<line x1="436.8" y1="191.8" x2="436.8" y2="274.6" stroke="#2a2a2a" stroke-width="0.9"/>
<line x1="405.7" y1="220" x2="436.8" y2="220" stroke="#2a2a2a" stroke-width="0.9"/>
<line x1="405.7" y1="246" x2="436.8" y2="246" stroke="#2a2a2a" stroke-width="0.9"/>
<line x1="392.4" y1="224.4" x2="399" y2="224.4" stroke="#2a2a2a" stroke-width="0.8"/>
<line x1="392.4" y1="242" x2="399" y2="242" stroke="#2a2a2a" stroke-width="0.8"/>
<path d="M399,224 Q401.5,233 399,242.4" stroke="#2a2a2a" stroke-width="0.8" fill="none" />
<path d="M405.3,223.5 Q402,233 405.3,243" stroke="#2a2a2a" stroke-width="0.8" fill="none" />
<path d="M428.2,226.4 L433.7,229.6 L433.7,236 L428.2,239.2 L422.7,236 L422.7,229.6 Z" stroke="#2a2a2a" stroke-width="0.9" fill="#fff" />
<line x1="428.2" y1="224" x2="428.2" y2="242" stroke="#2a2a2a" stroke-width="0.5"/>
<ellipse cx="403" cy="207.8" rx="4.7" ry="16" stroke="#2a2a2a" stroke-width="0.9" fill="#fff"/>
<ellipse cx="403" cy="207.8" rx="2.8" ry="9.5" stroke="#2a2a2a" stroke-width="0.8" fill="#ddd"/>
<ellipse cx="403" cy="207.8" rx="1.5" ry="7" stroke="#2a2a2a" stroke-width="0.7" fill="#999"/>
<line x1="396" y1="207.8" x2="411" y2="207.8" stroke="#2a2a2a" stroke-width="0.5"/>
<path d="M437.5,197.8 L441,193.3 L448,193.3 L451.5,199.8 L451.5,213.8 L448,218.4 L441,218.4 L437.5,215.8 Z" stroke="#2a2a2a" stroke-width="0.9" fill="#fff" />
<ellipse cx="447.3" cy="207.8" rx="3" ry="9" stroke="#2a2a2a" stroke-width="0.8" fill="#ddd"/>
<line x1="447.3" y1="198.8" x2="447.3" y2="216.8" stroke="#2a2a2a" stroke-width="0.5"/>
<line x1="441" y1="207.8" x2="455" y2="207.8" stroke="#2a2a2a" stroke-width="0.5"/>
<ellipse cx="403" cy="258.4" rx="4.7" ry="16" stroke="#2a2a2a" stroke-width="0.9" fill="#fff"/>
<ellipse cx="403" cy="258.4" rx="2.8" ry="9.5" stroke="#2a2a2a" stroke-width="0.8" fill="#ddd"/>
<ellipse cx="403" cy="258.4" rx="1.5" ry="7" stroke="#2a2a2a" stroke-width="0.7" fill="#999"/>
<line x1="396" y1="258.4" x2="411" y2="258.4" stroke="#2a2a2a" stroke-width="0.5"/>
<path d="M437.5,248.39999999999998 L441,243.89999999999998 L448,243.89999999999998 L451.5,250.39999999999998 L451.5,264.4 L448,269.0 L441,269.0 L437.5,266.4 Z" stroke="#2a2a2a" stroke-width="0.9" fill="#fff" />
<ellipse cx="447.3" cy="258.4" rx="3" ry="9" stroke="#2a2a2a" stroke-width="0.8" fill="#ddd"/>
<line x1="447.3" y1="249.39999999999998" x2="447.3" y2="267.4" stroke="#2a2a2a" stroke-width="0.5"/>
<line x1="441" y1="258.4" x2="455" y2="258.4" stroke="#2a2a2a" stroke-width="0.5"/>
<line x1="403" y1="191.8" x2="403" y2="197" stroke="#2a2a2a" stroke-width="0.5"/>
<line x1="403" y1="269" x2="403" y2="274.6" stroke="#2a2a2a" stroke-width="0.5"/>
<rect x="440" y="183.2" width="10" height="8.6" rx="0" stroke="#2a2a2a" stroke-width="0.9" fill="#fff"/>
<line x1="442.5" y1="183.2" x2="442.5" y2="191.8" stroke="#2a2a2a" stroke-width="0.6"/>
<line x1="447.5" y1="183.2" x2="447.5" y2="191.8" stroke="#2a2a2a" stroke-width="0.6"/>
<rect x="447.6" y="211" width="5.4" height="11" rx="1" stroke="#2a2a2a" stroke-width="0.9" fill="#fff"/>
<rect x="447.6" y="243.7" width="5.4" height="10.2" rx="1" stroke="#2a2a2a" stroke-width="0.9" fill="#fff"/>
<rect x="440" y="270" width="9.2" height="12.5" rx="0" stroke="#2a2a2a" stroke-width="0.9" fill="#fff"/>
<line x1="440" y1="192" x2="440" y2="275" stroke="#2a2a2a" stroke-width="0.7"/>
<rect x="448.6" y="230.6" width="3.4" height="4.6" rx="0" stroke="#2a2a2a" stroke-width="0.7" fill="#fff"/>
<ellipse cx="424.6" cy="278.8" rx="12.2" ry="7.6" stroke="#2a2a2a" stroke-width="0.9" fill="#fff" transform="rotate(-22 424.6 278.8)"/>
<ellipse cx="426" cy="279.4" rx="7.2" ry="4.6" stroke="#2a2a2a" stroke-width="0.8" fill="none" transform="rotate(-22 426 279.4)"/>
<ellipse cx="426.5" cy="279.6" rx="4" ry="2.4" stroke="#2a2a2a" stroke-width="0.8" fill="#bbb" transform="rotate(-22 426.5 279.6)"/>
<circle cx="419" cy="277" r="1.6" stroke="#2a2a2a" stroke-width="0.7" fill="none"/>
<path d="M414.5,274.8 Q416,270.5 421,270.6 L433,270.6 Q436,271 436.8,273" stroke="#2a2a2a" stroke-width="0.8" fill="none" />
<line x1="371" y1="258.4" x2="386" y2="258.4" stroke="#2a2a2a" stroke-width="0.5" stroke-dasharray="8 2 2 2"/>
<line x1="419" y1="258.4" x2="434" y2="258.4" stroke="#2a2a2a" stroke-width="0.5" stroke-dasharray="8 2 2 2"/>
<polygon points="382.20,259.00 383.30,270.00 381.10,270.00" fill="#111" stroke="#111" stroke-width="0.3"/>
<polygon points="426.70,259.00 427.80,270.00 425.60,270.00" fill="#111" stroke="#111" stroke-width="0.3"/>
<text x="374.4" y="273.4" font-size="11.2" text-anchor="start" font-weight="normal" fill="#1a1a1a" stroke="#1a1a1a" stroke-width="0.45" textLength="5.4" lengthAdjust="spacingAndGlyphs">A</text>
<text x="428.8" y="273.4" font-size="11.2" text-anchor="start" font-weight="normal" fill="#1a1a1a" stroke="#1a1a1a" stroke-width="0.45" textLength="5.4" lengthAdjust="spacingAndGlyphs">A</text>
<rect x="457" y="214.6" width="13" height="36.8" rx="0" stroke="#2a2a2a" stroke-width="0.9" fill="none"/>
<rect x="458.6" y="219" width="9.4" height="18" rx="3" stroke="#2a2a2a" stroke-width="0.8" fill="#fff"/>
<line x1="459" y1="226" x2="468" y2="226" stroke="#2a2a2a" stroke-width="0.7"/>
<line x1="459" y1="231" x2="468" y2="231" stroke="#2a2a2a" stroke-width="0.7"/>
<line x1="463.3" y1="217" x2="463.3" y2="239" stroke="#2a2a2a" stroke-width="0.5"/>
<line x1="470.7" y1="216.2" x2="478.3" y2="216.2" stroke="#2a2a2a" stroke-width="0.9"/>
<line x1="470.7" y1="250.2" x2="478.3" y2="250.2" stroke="#2a2a2a" stroke-width="0.9"/>
<line x1="453" y1="227" x2="456" y2="227" stroke="#2a2a2a" stroke-width="0.7"/>
<line x1="453" y1="240" x2="456" y2="240" stroke="#2a2a2a" stroke-width="0.7"/>
<path d="M478.3,210 Q478.3,206 482.3,206 L529,206 Q535,205.6 540,199.6" stroke="#2a2a2a" stroke-width="0.9" fill="none" />
<path d="M478.3,256.4 Q478.3,260.4 482.3,260.4 L529,260.4 Q535,260.8 540,266.2" stroke="#2a2a2a" stroke-width="0.9" fill="none" />
<line x1="478.3" y1="210" x2="478.3" y2="256.4" stroke="#2a2a2a" stroke-width="0.9"/>
<path d="M519.5,206 L519.5,199.8 L560,199.8 Q563.8,199.8 563.8,203.6 L563.8,221.7 M563.8,244.7 L563.8,262.2 Q563.8,266.2 560,266.2 L519.5,266.2 L519.5,260.4" stroke="#2a2a2a" stroke-width="0.9" fill="none" />
<path d="M520.8,221.7 A16.5,16.5 0 1 0 520.8,244.7" stroke="#2a2a2a" stroke-width="0.9" fill="none" />
<path d="M519.5,222.6 A15,15 0 1 0 519.5,243.8" stroke="#2a2a2a" stroke-width="0.7" fill="none" />
<line x1="520.8" y1="221.7" x2="592" y2="221.7" stroke="#2a2a2a" stroke-width="0.9"/>
<line x1="520.8" y1="244.7" x2="592" y2="244.7" stroke="#2a2a2a" stroke-width="0.9"/>
<line x1="509" y1="216" x2="509" y2="251" stroke="#2a2a2a" stroke-width="0.6" stroke-dasharray="7 2"/>
<line x1="530" y1="221.7" x2="530" y2="244.7" stroke="#2a2a2a" stroke-width="0.8"/>
<line x1="552" y1="221.7" x2="552" y2="244.7" stroke="#2a2a2a" stroke-width="0.8"/>
<line x1="542" y1="187" x2="542" y2="275.6" stroke="#2a2a2a" stroke-width="0.6"/>
<rect x="528.8" y="189.2" width="24.8" height="8.2" rx="3.2" stroke="#2a2a2a" stroke-width="0.9" fill="#fff"/>
<line x1="529" y1="193.2" x2="553.4" y2="193.2" stroke="#2a2a2a" stroke-width="0.7"/>
<line x1="531" y1="197.4" x2="531" y2="199.5" stroke="#2a2a2a" stroke-width="0.9"/>
<line x1="552" y1="197.4" x2="552" y2="199.5" stroke="#2a2a2a" stroke-width="0.9"/>
<line x1="546.6" y1="193.2" x2="546.6" y2="197" stroke="#2a2a2a" stroke-width="0.7"/>
<line x1="549.6" y1="193.2" x2="549.6" y2="197" stroke="#2a2a2a" stroke-width="0.7"/>
<line x1="533" y1="191" x2="550" y2="191" stroke="#2a2a2a" stroke-width="0.5"/>
<path d="M529.7,266.2 L553.3,266.2 Q554.3,268 552,270 Q549.5,271.6 546,271.6 L537,271.6 Q533,271.6 531,270 Q528.7,268 529.7,266.2 Z" stroke="#2a2a2a" stroke-width="0.9" fill="#bbb" />
<line x1="530.5" y1="268" x2="552.5" y2="268" stroke="#2a2a2a" stroke-width="1.0"/>
<line x1="532" y1="269.8" x2="551" y2="269.8" stroke="#2a2a2a" stroke-width="0.8"/>
<line x1="563.8" y1="199.8" x2="609" y2="199.8" stroke="#2a2a2a" stroke-width="0.7"/>
<line x1="563.8" y1="266.2" x2="609" y2="266.2" stroke="#2a2a2a" stroke-width="0.7"/>
<line x1="607" y1="199.8" x2="607" y2="266.2" stroke="#2a2a2a" stroke-width="0.7"/>
<polygon points="607.00,199.80 607.95,207.30 606.05,207.30" fill="#111" stroke="#111" stroke-width="0.3"/>
<polygon points="607.00,266.20 606.05,258.70 607.95,258.70" fill="#111" stroke="#111" stroke-width="0.3"/>
<line x1="590.3" y1="190.8" x2="590.3" y2="244.7" stroke="#2a2a2a" stroke-width="0.7"/>
<polygon points="590.30,221.70 591.25,229.20 589.35,229.20" fill="#111" stroke="#111" stroke-width="0.3"/>
<polygon points="590.30,244.70 589.35,237.20 591.25,237.20" fill="#111" stroke="#111" stroke-width="0.3"/>
<text x="588" y="217.2" font-size="11.2" text-anchor="start" font-weight="normal" fill="#1a1a1a" stroke="#1a1a1a" stroke-width="0.45" textLength="12" lengthAdjust="spacingAndGlyphs" transform="rotate(-90 588 217.2)">28</text>
<text x="581" y="202.4" font-size="7.4" text-anchor="start" font-weight="normal" fill="#1a1a1a" stroke="#1a1a1a" stroke-width="0.3" textLength="9.6" lengthAdjust="spacingAndGlyphs" transform="rotate(-90 581 202.4)">+2,1</text>
<text x="604.6" y="244" font-size="11.2" text-anchor="start" font-weight="normal" fill="#1a1a1a" stroke="#1a1a1a" stroke-width="0.45" textLength="21.6" lengthAdjust="spacingAndGlyphs" transform="rotate(-90 604.6 244)">76±2</text>
<path d="M170,337 Q170.5,333 175,331 Q183,328.6 191,328.3 Q198,328 202,329 Q206.5,330.5 209,335 Q212.6,340.5 213.6,346 L214,349.6 L182.4,349.6 L180,348.2 L176,348 L176,347 L170,347 Z" fill="url(#hG)" stroke="#2a2a2a" stroke-width="0.9"/>
<path d="M170,385.4 L176,385.4 L176,384.4 L180,384.2 L182.4,383 L216,383 Q215.8,388 212,392 Q208,396.6 204,397.4 Q197,396.4 190,398.6 Q184,400.6 180,403.6 Q176,406 172.5,405.6 Q170,405 170,402 Z" fill="url(#hG)" stroke="#2a2a2a" stroke-width="0.9"/>
<path d="M214,349.6 Q214.6,360 215.2,370 Q215.6,378 216,383" stroke="#2a2a2a" stroke-width="0.8" fill="none" />
<line x1="170" y1="347" x2="170" y2="385.4" stroke="#2a2a2a" stroke-width="0.8"/>
<line x1="175.2" y1="347" x2="175.2" y2="385.4" stroke="#2a2a2a" stroke-width="1.6"/>
<line x1="180" y1="348.2" x2="180" y2="384.2" stroke="#2a2a2a" stroke-width="0.9"/>
<line x1="182.4" y1="349.6" x2="182.4" y2="383" stroke="#2a2a2a" stroke-width="1.4"/>
<line x1="176" y1="348" x2="180" y2="348" stroke="#2a2a2a" stroke-width="0.8"/>
<line x1="176" y1="384.4" x2="180" y2="384.4" stroke="#2a2a2a" stroke-width="0.8"/>
<line x1="182.4" y1="352" x2="204" y2="352" stroke="#2a2a2a" stroke-width="0.6"/>
<line x1="182.4" y1="380.6" x2="204" y2="380.6" stroke="#2a2a2a" stroke-width="0.6"/>
<line x1="204" y1="349.6" x2="204" y2="383" stroke="#2a2a2a" stroke-width="0.6"/>
<line x1="182.4" y1="349.6" x2="230.5" y2="349.6" stroke="#2a2a2a" stroke-width="1.0"/>
<line x1="182.4" y1="383" x2="230.5" y2="383" stroke="#2a2a2a" stroke-width="1.0"/>
<line x1="214" y1="349.6" x2="230.5" y2="349.6" stroke="#2a2a2a" stroke-width="0.6"/>
<line x1="166" y1="366.2" x2="226" y2="366.2" stroke="#2a2a2a" stroke-width="0.5" stroke-dasharray="22 1.5 2.5 1.5"/>
<line x1="173.2" y1="304.5" x2="173.2" y2="347" stroke="#2a2a2a" stroke-width="0.6"/>
<line x1="180" y1="304.5" x2="180" y2="348" stroke="#2a2a2a" stroke-width="0.6"/>
<line x1="165" y1="308.4" x2="207" y2="308.4" stroke="#2a2a2a" stroke-width="0.7"/>
<polygon points="173.20,308.40 165.70,309.35 165.70,307.45" fill="#111" stroke="#111" stroke-width="0.3"/>
<polygon points="180.00,308.40 187.50,307.45 187.50,309.35" fill="#111" stroke="#111" stroke-width="0.3"/>
<text x="185" y="305.6" font-size="11.2" text-anchor="start" font-weight="normal" fill="#1a1a1a" stroke="#1a1a1a" stroke-width="0.45" textLength="5" lengthAdjust="spacingAndGlyphs">8</text>
<text x="194" y="299.2" font-size="7.2" text-anchor="start" font-weight="normal" fill="#1a1a1a" stroke="#1a1a1a" stroke-width="0.3" textLength="11" lengthAdjust="spacingAndGlyphs">+0,5</text>
<line x1="159" y1="285" x2="159" y2="384.4" stroke="#2a2a2a" stroke-width="0.6"/>
<polygon points="159.00,348.00 159.95,355.50 158.05,355.50" fill="#111" stroke="#111" stroke-width="0.3"/>
<polygon points="159.00,384.40 158.05,376.90 159.95,376.90" fill="#111" stroke="#111" stroke-width="0.3"/>
<line x1="158" y1="348" x2="176" y2="348" stroke="#2a2a2a" stroke-width="0.6"/>
<g transform="translate(155.8 327.2) rotate(-90)"><ellipse cx="2.9" cy="-3.83" rx="1.6" ry="2.8" transform="rotate(34 2.9 -3.83)" fill="none" stroke="#1a1a1a" stroke-width="1.15"/><line x1="0.2" y1="0.2" x2="5.7" y2="-8.26" stroke="#1a1a1a" stroke-width="1.0"/></g>
<text x="155.8" y="320.4" font-size="11.2" text-anchor="start" font-weight="normal" fill="#1a1a1a" stroke="#1a1a1a" stroke-width="0.45" textLength="17.8" lengthAdjust="spacingAndGlyphs" transform="rotate(-90 155.8 320.4)">43,2</text>
<text x="149.7" y="299.2" font-size="7.4" text-anchor="start" font-weight="normal" fill="#1a1a1a" stroke="#1a1a1a" stroke-width="0.3" textLength="13.2" lengthAdjust="spacingAndGlyphs" transform="rotate(-90 149.7 299.2)">+0,16</text>
<line x1="146" y1="347" x2="175" y2="347" stroke="#2a2a2a" stroke-width="0.6"/>
<line x1="146" y1="385.4" x2="175" y2="385.4" stroke="#2a2a2a" stroke-width="0.6"/>
<line x1="147.4" y1="347" x2="147.4" y2="385.4" stroke="#2a2a2a" stroke-width="0.6"/>
<polygon points="147.40,347.00 148.35,354.50 146.45,354.50" fill="#111" stroke="#111" stroke-width="0.3"/>
<polygon points="147.40,385.40 146.45,377.90 148.35,377.90" fill="#111" stroke="#111" stroke-width="0.3"/>
<g transform="translate(144.3 380) rotate(-90)"><ellipse cx="2.9" cy="-3.83" rx="1.6" ry="2.8" transform="rotate(34 2.9 -3.83)" fill="none" stroke="#1a1a1a" stroke-width="1.15"/><line x1="0.2" y1="0.2" x2="5.7" y2="-8.26" stroke="#1a1a1a" stroke-width="1.0"/></g>
<text x="144.3" y="373.2" font-size="11.2" text-anchor="start" font-weight="normal" fill="#1a1a1a" stroke="#1a1a1a" stroke-width="0.45" textLength="11.2" lengthAdjust="spacingAndGlyphs" transform="rotate(-90 144.3 373.2)">46</text>
<text x="137.4" y="360" font-size="7.4" text-anchor="start" font-weight="normal" fill="#1a1a1a" stroke="#1a1a1a" stroke-width="0.3" textLength="6" lengthAdjust="spacingAndGlyphs" transform="rotate(-90 137.4 360)">+1</text>
<line x1="125" y1="336.6" x2="170" y2="336.6" stroke="#2a2a2a" stroke-width="0.6"/>
<line x1="125" y1="396" x2="172" y2="396" stroke="#2a2a2a" stroke-width="0.6"/>
<line x1="126.6" y1="336.6" x2="126.6" y2="396" stroke="#2a2a2a" stroke-width="0.6"/>
<polygon points="126.60,336.60 127.55,344.10 125.65,344.10" fill="#111" stroke="#111" stroke-width="0.3"/>
<polygon points="126.60,396.00 125.65,388.50 127.55,388.50" fill="#111" stroke="#111" stroke-width="0.3"/>
<g transform="translate(123 376) rotate(-90)"><ellipse cx="2.9" cy="-3.83" rx="1.6" ry="2.8" transform="rotate(34 2.9 -3.83)" fill="none" stroke="#1a1a1a" stroke-width="1.15"/><line x1="0.2" y1="0.2" x2="5.7" y2="-8.26" stroke="#1a1a1a" stroke-width="1.0"/></g>
<text x="123.0" y="369.2" font-size="11.2" text-anchor="start" font-weight="normal" fill="#1a1a1a" stroke="#1a1a1a" stroke-width="0.45" textLength="10.5" lengthAdjust="spacingAndGlyphs" transform="rotate(-90 123.0 369.2)">70</text>
<line x1="228.6" y1="349.6" x2="228.6" y2="436" stroke="#2a2a2a" stroke-width="0.6"/>
<polygon points="228.60,349.60 229.55,357.10 227.65,357.10" fill="#111" stroke="#111" stroke-width="0.3"/>
<polygon points="228.60,383.00 227.65,375.50 229.55,375.50" fill="#111" stroke="#111" stroke-width="0.3"/>
<text x="226" y="435" font-size="11.2" text-anchor="start" font-weight="normal" fill="#1a1a1a" stroke="#1a1a1a" stroke-width="0.45" textLength="50" lengthAdjust="spacingAndGlyphs" transform="rotate(-90 226 435)">M40×1,5-7H</text>
<text x="237.2" y="411.4" font-size="11.2" text-anchor="start" font-weight="normal" fill="#1a1a1a" stroke="#1a1a1a" stroke-width="0.45" textLength="26.4" lengthAdjust="spacingAndGlyphs" transform="rotate(-90 237.2 411.4)">4 отв.</text>
<line x1="94" y1="384.6" x2="176" y2="384.6" stroke="#2a2a2a" stroke-width="0.6"/>
<line x1="175" y1="384.6" x2="117" y2="441.5" stroke="#2a2a2a" stroke-width="0.6"/>
<path d="M95.6,386 A78.4,78.4 0 0 0 118.4,440.2" stroke="#2a2a2a" stroke-width="0.7" fill="none" />
<polygon points="95.30,385.00 96.41,390.96 94.61,391.03" fill="#111" stroke="#111" stroke-width="0.3"/>
<polygon points="118.80,440.60 113.98,436.91 115.28,435.66" fill="#111" stroke="#111" stroke-width="0.3"/>
<text x="102.4" y="405.6" font-size="11.2" text-anchor="start" font-weight="normal" fill="#1a1a1a" stroke="#1a1a1a" stroke-width="0.45" textLength="11.4" lengthAdjust="spacingAndGlyphs" transform="rotate(56 102.4 405.6)">45</text>
<circle cx="114" cy="414.8" r="1.7" stroke="#2a2a2a" stroke-width="0.8" fill="none"/>
<path d="M131.6,410 L121,419 L126,433 L117,430" stroke="#2a2a2a" stroke-width="0.7" fill="none" />
<text x="126.8" y="429" font-size="4.6" text-anchor="start" font-weight="bold" fill="#1a1a1a" stroke="#1a1a1a" stroke-width="0.3" textLength="13.2" lengthAdjust="spacingAndGlyphs" transform="rotate(-47 126.8 429)">Rz 160</text>
<line x1="170" y1="403" x2="170" y2="420" stroke="#2a2a2a" stroke-width="0.6"/>
<line x1="173.6" y1="405" x2="173.6" y2="442.5" stroke="#2a2a2a" stroke-width="0.6"/>
<line x1="157" y1="418" x2="183" y2="418" stroke="#2a2a2a" stroke-width="0.7"/>
<polygon points="170.00,418.00 162.50,418.95 162.50,417.05" fill="#111" stroke="#111" stroke-width="0.3"/>
<polygon points="173.60,418.00 181.10,417.05 181.10,418.95" fill="#111" stroke="#111" stroke-width="0.3"/>
<text x="158.4" y="415" font-size="11.2" text-anchor="start" font-weight="normal" fill="#1a1a1a" stroke="#1a1a1a" stroke-width="0.45" textLength="4.6" lengthAdjust="spacingAndGlyphs">4</text>
<line x1="204" y1="383" x2="204" y2="442.5" stroke="#2a2a2a" stroke-width="0.6"/>
<line x1="173.6" y1="440.4" x2="204" y2="440.4" stroke="#2a2a2a" stroke-width="0.7"/>
<polygon points="173.60,440.40 181.10,439.45 181.10,441.35" fill="#111" stroke="#111" stroke-width="0.3"/>
<polygon points="204.00,440.40 196.50,441.35 196.50,439.45" fill="#111" stroke="#111" stroke-width="0.3"/>
<text x="175.6" y="437.4" font-size="11.2" text-anchor="start" font-weight="normal" fill="#1a1a1a" stroke="#1a1a1a" stroke-width="0.45" textLength="26" lengthAdjust="spacingAndGlyphs">36 min</text>
<text x="99" y="313" font-size="14.8" text-anchor="start" font-weight="normal" fill="#1a1a1a" stroke="#1a1a1a" stroke-width="0.15" textLength="22.4" lengthAdjust="spacingAndGlyphs">A–A</text>
<circle cx="129.4" cy="308.6" r="5.4" stroke="#2a2a2a" stroke-width="0.7" fill="none"/>
<path d="M124.6,306 L124,303.6 L126.6,304.4" stroke="#2a2a2a" stroke-width="0.6" fill="none" />
</g>
</svg>
</body></html>
